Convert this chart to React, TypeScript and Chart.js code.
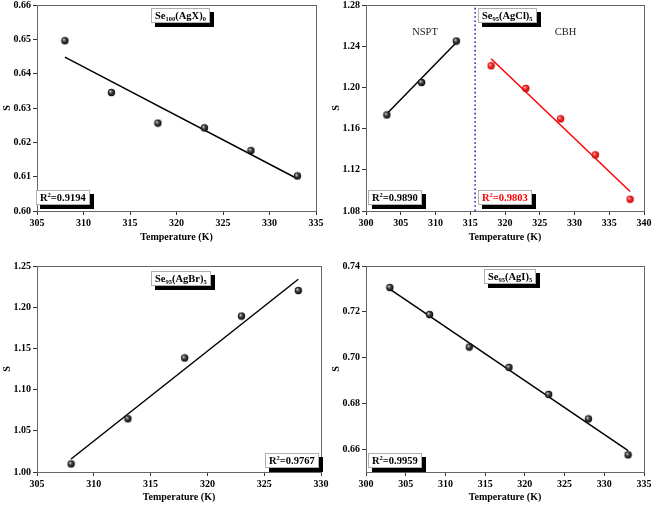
import React, { useEffect, useRef } from "react";
import { Chart, registerables } from "chart.js";
Chart.register(...registerables);

const FONT = "'Liberation Serif', 'Times New Roman', Times, serif";

// Panel A: Se100(AgX)0
const tempA = [308, 313, 318, 323, 328, 333];
const sA = [0.6496, 0.6345, 0.6256, 0.6242, 0.6176, 0.6102];
const fitTempA = [308, 333];
const fitSA = [0.6448, 0.6094];
const xTicksA = [305, 310, 315, 320, 325, 330, 335];
const yTicksA = [0.6, 0.61, 0.62, 0.63, 0.64, 0.65, 0.66];

// Panel B: Se95(AgCl)5
const tempBn = [303, 308, 313];
const sBn = [1.1733, 1.2048, 1.245];
const fitTempBn = [303, 313];
const fitSBn = [1.1745, 1.2436];
const tempBc = [318, 323, 328, 333, 338];
const sBc = [1.221, 1.199, 1.1695, 1.1345, 1.0914];
const fitTempBc = [318, 338];
const fitSBc = [1.2278, 1.099];
const dividerTemp = 315.7;
const xTicksB = [300, 305, 310, 315, 320, 325, 330, 335, 340];
const yTicksB = [1.08, 1.12, 1.16, 1.2, 1.24, 1.28];

// Panel C: Se95(AgBr)5
const tempC = [308, 313, 318, 323, 328];
const sC = [1.0098, 1.0646, 1.1384, 1.1892, 1.2202];
const fitTempC = [308, 328];
const fitSC = [1.0158, 1.2339];
const xTicksC = [305, 310, 315, 320, 325, 330];
const yTicksC = [1.0, 1.05, 1.1, 1.15, 1.2, 1.25];

// Panel D: Se95(AgI)5
const tempD = [303, 308, 313, 318, 323, 328, 333];
const sD = [0.7306, 0.7188, 0.7046, 0.6957, 0.6839, 0.6732, 0.6575];
const fitTempD = [303, 333];
const fitSD = [0.7299, 0.6593];
const xTicksD = [300, 305, 310, 315, 320, 325, 330, 335];
const yTicksD = [0.66, 0.68, 0.7, 0.72, 0.74];
const yRangeD = [0.65, 0.74];

type Seg = { t: string; s?: "sub" | "sup" };
type Box = { segs: Seg[]; cx: number; top: number; color: string };
type Txt = { text: string; x: number; y: number };

function sphere(kind: "black" | "red"): HTMLCanvasElement {
  const c = document.createElement("canvas");
  const size = 9;
  c.width = size;
  c.height = size;
  const ctx = c.getContext("2d")!;
  const r = 3.7;
  const cx = size / 2, cy = size / 2;
  const g = ctx.createRadialGradient(cx - 1.3, cy - 1.3, 0.2, cx, cy, r);
  if (kind === "black") {
    g.addColorStop(0, "#f4f4f4");
    g.addColorStop(0.35, "#555");
    g.addColorStop(1, "#000");
  } else {
    g.addColorStop(0, "#ffe0e0");
    g.addColorStop(0.35, "#ff3a3a");
    g.addColorStop(1, "#c00000");
  }
  ctx.fillStyle = g;
  ctx.beginPath();
  ctx.arc(cx, cy, r, 0, Math.PI * 2);
  ctx.fill();
  return c;
}

function richWidth(ctx: CanvasRenderingContext2D, segs: Seg[]) {
  let w = 0;
  for (const s of segs) {
    ctx.font = s.s ? `bold 6.5px ${FONT}` : `bold 10.5px ${FONT}`;
    w += ctx.measureText(s.t).width;
  }
  return w;
}

function drawRich(ctx: CanvasRenderingContext2D, segs: Seg[], x: number, base: number, color: string) {
  ctx.fillStyle = color;
  ctx.textAlign = "left";
  ctx.textBaseline = "alphabetic";
  let cx = x;
  for (const s of segs) {
    ctx.font = s.s ? `bold 6.5px ${FONT}` : `bold 10.5px ${FONT}`;
    const dy = s.s === "sub" ? 2.5 : s.s === "sup" ? -4 : 0;
    ctx.fillText(s.t, cx, base + dy);
    cx += ctx.measureText(s.t).width;
  }
}

function drawBox(ctx: CanvasRenderingContext2D, b: Box) {
  const w = Math.round(richWidth(ctx, b.segs) + 8);
  const h = 15;
  const x = Math.round(b.cx - w / 2);
  const y = Math.round(b.top);
  ctx.fillStyle = "#000";
  ctx.fillRect(x + 4, y + 4, w, h);
  ctx.fillStyle = "#fff";
  ctx.fillRect(x, y, w, h);
  ctx.strokeStyle = "#b0b0b0";
  ctx.lineWidth = 1;
  ctx.strokeRect(x + 0.5, y + 0.5, w - 1, h - 1);
  drawRich(ctx, b.segs, x + 4, y + 10.5, b.color);
}

type Cfg = {
  left: number; top: number; width: number; height: number;
  pad: { left: number; right: number; top: number; bottom: number };
  titlePadBottom: number;
  xMin: number; xMax: number; xTicks: number[];
  yMin: number; yMax: number; yTicks: number[];
  datasets: () => any[];
  boxes: Box[];
  texts: Txt[];
};

const pts = (xs: number[], ys: number[]) => xs.map((x, i) => ({ x, y: ys[i] }));
const scatterSet = (xs: number[], ys: number[], img: HTMLCanvasElement) => ({
  data: pts(xs, ys), pointStyle: img, pointRadius: 4, showLine: false, order: 0,
});
const lineSet = (xs: number[], ys: number[], color: string, dash: number[] = [], width = 1.5) => ({
  data: pts(xs, ys), showLine: true, pointRadius: 0, borderColor: color, borderWidth: width,
  borderDash: dash, order: 1, fill: false,
});

const r2 = (v: string): Seg[] => [{ t: "R" }, { t: "2", s: "sup" }, { t: "=" + v }];

const panels: Cfg[] = [
  {
    left: 0, top: 0, width: 329, height: 250,
    pad: { left: 37, right: 13, top: 5, bottom: 39 }, titlePadBottom: 7,
    xMin: 305, xMax: 335, xTicks: xTicksA, yMin: 0.6, yMax: 0.66, yTicks: yTicksA,
    datasets: () => [
      scatterSet(tempA, sA, sphere("black")),
      lineSet(fitTempA, fitSA, "#000"),
    ],
    boxes: [
      { segs: [{ t: "Se" }, { t: "100", s: "sub" }, { t: "(AgX)" }, { t: "0", s: "sub" }], cx: 180.5, top: 8, color: "#000" },
      { segs: r2("0.9194"), cx: 63, top: 190, color: "#000" },
    ],
    texts: [],
  },
  {
    left: 329, top: 0, width: 329, height: 250,
    pad: { left: 37, right: 14, top: 5, bottom: 39 }, titlePadBottom: 7,
    xMin: 300, xMax: 340, xTicks: xTicksB, yMin: 1.08, yMax: 1.28, yTicks: yTicksB,
    datasets: () => [
      scatterSet(tempBn, sBn, sphere("black")),
      scatterSet(tempBc, sBc, sphere("red")),
      lineSet(fitTempBn, fitSBn, "#000"),
      lineSet(fitTempBc, fitSBc, "#ff0000"),
      lineSet([dividerTemp, dividerTemp], [yTicksB[0], yTicksB[yTicksB.length - 1]], "#2a2ab0", [1.6, 2.6], 1.6),
    ],
    boxes: [
      { segs: [{ t: "Se" }, { t: "95", s: "sub" }, { t: "(AgCl)" }, { t: "5", s: "sub" }], cx: 178, top: 8, color: "#000" },
      { segs: r2("0.9890"), cx: 66, top: 190, color: "#000" },
      { segs: r2("0.9803"), cx: 175.5, top: 190, color: "#ff0000" },
    ],
    texts: [
      { text: "NSPT", x: 96, y: 32 },
      { text: "CBH", x: 236.5, y: 32 },
    ],
  },
  {
    left: 0, top: 250, width: 329, height: 255,
    pad: { left: 37, right: 8, top: 16, bottom: 33 }, titlePadBottom: 2,
    xMin: 305, xMax: 330, xTicks: xTicksC, yMin: 1.0, yMax: 1.25, yTicks: yTicksC,
    datasets: () => [
      scatterSet(tempC, sC, sphere("black")),
      lineSet(fitTempC, fitSC, "#000"),
    ],
    boxes: [
      { segs: [{ t: "Se" }, { t: "95", s: "sub" }, { t: "(AgBr)" }, { t: "5", s: "sub" }], cx: 180.5, top: 21, color: "#000" },
      { segs: r2("0.9767"), cx: 292, top: 203, color: "#000" },
    ],
    texts: [],
  },
  {
    left: 329, top: 250, width: 329, height: 255,
    pad: { left: 37, right: 14, top: 16, bottom: 33 }, titlePadBottom: 2,
    xMin: 300, xMax: 335, xTicks: xTicksD, yMin: yRangeD[0], yMax: yRangeD[1], yTicks: yTicksD,
    datasets: () => [
      scatterSet(tempD, sD, sphere("black")),
      lineSet(fitTempD, fitSD, "#000"),
    ],
    boxes: [
      { segs: [{ t: "Se" }, { t: "95", s: "sub" }, { t: "(AgI)" }, { t: "5", s: "sub" }], cx: 181, top: 19, color: "#000" },
      { segs: r2("0.9959"), cx: 66, top: 203, color: "#000" },
    ],
    texts: [],
  },
];

function Panel({ cfg }: { cfg: Cfg }) {
  const ref = useRef<HTMLCanvasElement>(null);
  useEffect(() => {
    const canvas = ref.current!;
    const tickFont = { family: FONT, size: 10, weight: "bold" as const };
    const annot = {
      id: "annot",
      afterDraw(chart: any) {
        const ctx = chart.ctx as CanvasRenderingContext2D;
        const a = chart.chartArea;
        ctx.save();
        ctx.strokeStyle = "#666";
        ctx.lineWidth = 1;
        const l = Math.round(a.left) + 0.5, t = Math.round(a.top) + 0.5;
        const r = Math.round(a.right) + 0.5, b = Math.round(a.bottom) + 0.5;
        ctx.strokeRect(l, t, r - l, b - t);
        for (const tx of cfg.texts) {
          ctx.font = `10.5px ${FONT}`;
          ctx.fillStyle = "#222";
          ctx.textAlign = "center";
          ctx.textBaseline = "middle";
          ctx.fillText(tx.text, tx.x, tx.y);
        }
        for (const bx of cfg.boxes) drawBox(ctx, bx);
        ctx.restore();
      },
    };
    const chart = new Chart(canvas, {
      type: "scatter",
      data: { datasets: cfg.datasets() },
      options: {
        animation: false,
        responsive: false,
        devicePixelRatio: 1,
        layout: { padding: { left: 0, top: cfg.pad.top, right: cfg.pad.right, bottom: 0 } },
        plugins: { legend: { display: false }, tooltip: { enabled: false } },
        scales: {
          x: {
            type: "linear",
            min: cfg.xMin,
            max: cfg.xMax,
            afterBuildTicks: (s: any) => { s.ticks = cfg.xTicks.map((v) => ({ value: v })); },
            afterFit: (s: any) => { s.height = cfg.pad.bottom; s.paddingLeft = 0; s.paddingRight = 0; },
            grid: { drawOnChartArea: false, drawTicks: true, tickLength: 4, color: "#333", lineWidth: 1 },
            border: { display: true, color: "#666", width: 1 },
            ticks: { font: tickFont, color: "#000", padding: 2, maxRotation: 0, autoSkip: false, callback: (v: any) => String(v) },
            title: { display: true, text: "Temperature (K)", font: tickFont, color: "#000", padding: { top: 0, bottom: cfg.titlePadBottom } },
          },
          y: {
            type: "linear",
            min: cfg.yMin,
            max: cfg.yMax,
            afterBuildTicks: (s: any) => { s.ticks = cfg.yTicks.map((v) => ({ value: v })); },
            afterFit: (s: any) => { s.width = cfg.pad.left; s.paddingTop = 0; s.paddingBottom = 0; },
            grid: { drawOnChartArea: false, drawTicks: true, tickLength: 4, color: "#333", lineWidth: 1 },
            border: { display: true, color: "#666", width: 1 },
            ticks: { font: tickFont, color: "#000", padding: 2, autoSkip: false, callback: (v: any) => Number(v).toFixed(2) },
            title: { display: true, text: "S", font: tickFont, color: "#000", padding: { top: 1, bottom: 0 } },
          },
        },
      } as any,
      plugins: [annot],
    });
    return () => chart.destroy();
  }, []);
  return (
    <canvas
      ref={ref}
      width={cfg.width}
      height={cfg.height}
      style={{ position: "absolute", left: cfg.left, top: cfg.top, width: cfg.width, height: cfg.height }}
    />
  );
}

export default function App() {
  return (
    <div style={{ position: "absolute", left: 0, top: 0, width: 658, height: 505, background: "#fff", overflow: "hidden" }}>
      {panels.map((p, i) => (
        <Panel key={i} cfg={p} />
      ))}
    </div>
  );
}
